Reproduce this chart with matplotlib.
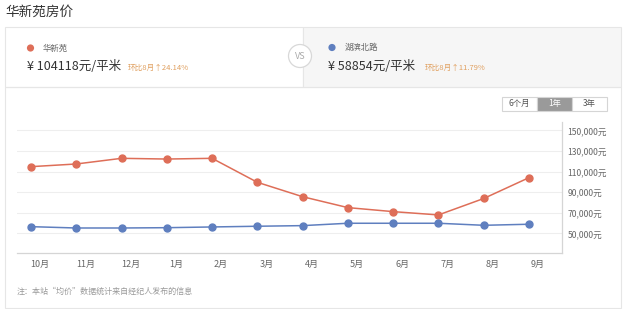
import matplotlib
matplotlib.use("Agg")
import matplotlib.pyplot as plt
from matplotlib.patches import Rectangle, Circle
import matplotlib.transforms as mtransforms

plt.rcParams['font.family'] = ['Noto Sans CJK SC', 'DejaVu Sans']

months = ['10月', '11月', '12月', '1月', '2月', '3月', '4月', '5月', '6月', '7月', '8月', '9月']
huaxinyuan = [114800, 117400, 122900, 122200, 122900, 99600, 85600, 75000, 71100, 67900, 83871, 104118]
hubinbeilu = [56500, 55200, 55200, 55500, 56200, 56900, 57500, 59800, 59800, 59800, 57820, 58854]
yticks = [50000, 70000, 90000, 110000, 130000, 150000]
ytick_labels = ['50,000元', '70,000元', '90,000元', '110,000元', '130,000元', '150,000元']
buttons = ['6个月', '1年', '3年']

RED = '#de6e58'
BLUE = '#5f7fbf'
W, H = 625, 309

fig = plt.figure(figsize=(6.25, 3.09), dpi=100)
fig.patch.set_facecolor('white')

def fx(px):
    return px / W

def fy(py):
    return 1 - py / H

deco = fig.add_axes([0, 0, 1, 1])
deco.set_xlim(0, W)
deco.set_ylim(H, 0)
deco.axis('off')

# Title
deco.text(5, 12, '华新苑房价', fontsize=9.8, color='#333333', va='center', ha='left')

# Header cards
deco.add_patch(Rectangle((5, 27), 298, 60, facecolor='white', edgecolor='#e6e6e6', lw=0.8))
deco.add_patch(Rectangle((303, 27), 318, 60, facecolor='#f6f6f6', edgecolor='#e6e6e6', lw=0.8))
deco.add_patch(Circle((300, 56), 11.5, facecolor='white', edgecolor='#d8d8d8', lw=0.9))
deco.text(300, 56.5, 'VS', fontsize=6.5, color='#aaaaaa', ha='center', va='center')

# Left card
deco.add_patch(Circle((30.5, 48), 3.6, facecolor=RED, edgecolor='none'))
deco.text(43, 48, '华新苑', fontsize=6, color='#666666', va='center')
deco.text(27, 67, '¥ 104118元/平米', fontsize=9, color='#333333', va='center')
deco.text(128, 68, '环比8月↑24.14%', fontsize=5.5, color='#e0a060', va='center')

# Right card
deco.add_patch(Circle((332, 47.5), 3.6, facecolor=BLUE, edgecolor='none'))
deco.text(345, 47.5, '湖滨北路', fontsize=6, color='#666666', va='center')
deco.text(328, 67, '¥ 58854元/平米', fontsize=9, color='#333333', va='center')
deco.text(425, 68, '环比8月↑11.79%', fontsize=5.5, color='#e0a060', va='center')

# Lower panel
deco.add_patch(Rectangle((5, 87), 616, 221, facecolor='none', edgecolor='#e6e6e6', lw=0.8))

# Buttons
bx = [502, 537, 572]
for i, lab in enumerate(buttons):
    active = (lab == '1年')
    deco.add_patch(Rectangle((bx[i], 97), 35, 13.5,
                             facecolor='#9a9a9a' if active else 'white',
                             edgecolor='#d5d5d5', lw=0.8))
    deco.text(bx[i] + 17.5, 103.8, lab, fontsize=6, ha='center', va='center',
              color='white' if active else '#555555')

# Note
deco.text(17, 291, '注：本站“均价”数据统计来自经纪人发布的信息', fontsize=5.8,
          color='#999999', va='center')

# Main chart axes
left, right, top, bottom = 17, 562, 122, 253
ax = fig.add_axes([fx(left), fy(bottom), fx(right - left), (bottom - top) / H])
ax.set_facecolor('none')
x = list(range(len(months)))
ax.plot(x, huaxinyuan, color=RED, lw=1.1, marker='o', ms=5.0, zorder=3)
ax.plot(x, hubinbeilu, color=BLUE, lw=1.1, marker='o', ms=5.0, zorder=3)

ax.set_xlim(-0.309, 11.729)
ax.set_ylim(30900, 158200)
ax.set_yticks(yticks)
ax.set_yticklabels(ytick_labels)
ax.yaxis.tick_right()
ax.tick_params(axis='y', length=0, pad=4, labelsize=6.2, labelcolor='#666666')
ax.set_xticks(x)
ax.set_xticklabels(months)
ax.tick_params(axis='x', length=0, pad=5, labelsize=6.5, labelcolor='#666666')
offset = mtransforms.ScaledTranslation(9 / 100, 0, fig.dpi_scale_trans)
for lbl in ax.get_xticklabels():
    lbl.set_transform(lbl.get_transform() + offset)

ax.grid(axis='y', color='#eeeeee', lw=0.8)
ax.set_axisbelow(True)
for s in ['top', 'left']:
    ax.spines[s].set_visible(False)
for s in ['bottom', 'right']:
    ax.spines[s].set_color('#d5d5d5')
    ax.spines[s].set_linewidth(0.9)

fig.savefig('out.png', dpi=100)
